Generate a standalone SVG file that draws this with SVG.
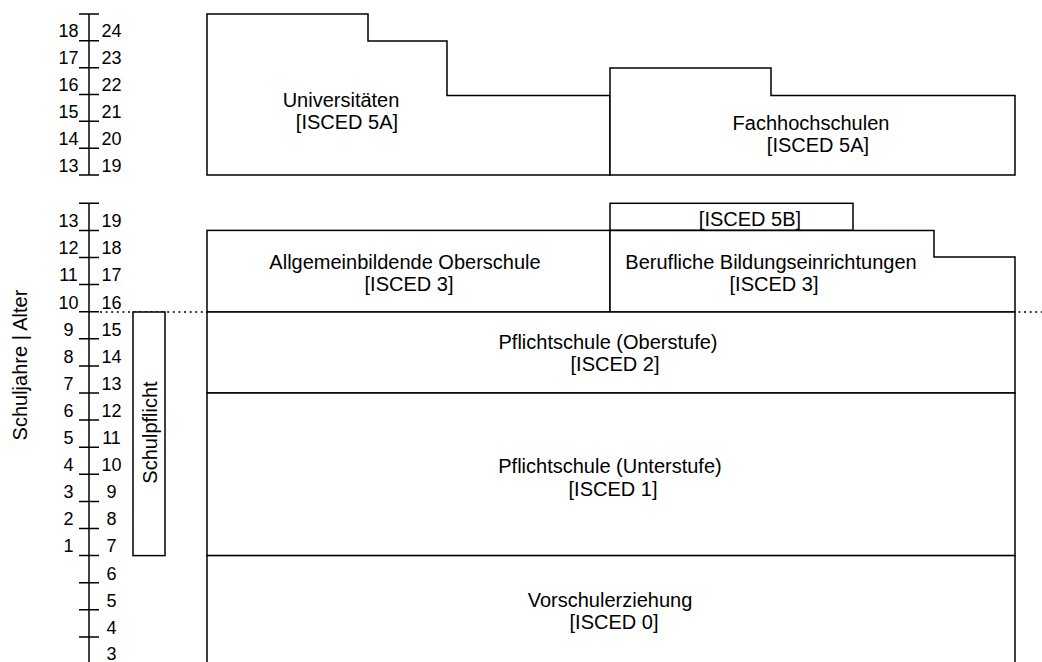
<svg xmlns="http://www.w3.org/2000/svg" width="1042" height="662" viewBox="0 0 1042 662">
<style>
.bx{fill:#fff;stroke:#000;stroke-width:1.5}
.ax{stroke:#000;stroke-width:1.5;fill:none}
.t{font-family:"Liberation Sans",Arial,sans-serif;font-size:20px;fill:#000;text-anchor:middle}
.n{font-family:"Liberation Sans",Arial,sans-serif;font-size:18px;fill:#000;text-anchor:middle}
.dot{stroke:#000;stroke-width:1.5;stroke-dasharray:2 3.6;fill:none}
</style>
<rect width="1042" height="662" fill="#fff"/>
<g id="connectors">
<line class="dot" x1="100" y1="312" x2="1042" y2="312"/>
</g>
<g id="axis-top">
<line class="ax" x1="89" y1="14" x2="89" y2="175"/>
<path class="ax" d="M79 14H99M79 40.8H99M79 67.7H99M79 94.5H99M79 121.3H99M79 148.2H99M79 175H99"/>
<text class="n" x="68.5" y="37.3">18</text><text class="n" x="111.5" y="37.3">24</text>
<text class="n" x="68.5" y="64.2">17</text><text class="n" x="111.5" y="64.2">23</text>
<text class="n" x="68.5" y="91">16</text><text class="n" x="111.5" y="91">22</text>
<text class="n" x="68.5" y="117.8">15</text><text class="n" x="111.5" y="117.8">21</text>
<text class="n" x="68.5" y="144.7">14</text><text class="n" x="111.5" y="144.7">20</text>
<text class="n" x="68.5" y="171.5">13</text><text class="n" x="111.5" y="171.5">19</text>
</g>
<g id="axis-bottom">
<line class="ax" x1="89" y1="203.3" x2="89" y2="662"/>
<path class="ax" d="M79 203.3H99M79 230.4H99M79 257.5H99M79 284.6H99M79 311.7H99M79 338.8H99M79 365.9H99M79 393H99M79 420.1H99M79 447.2H99M79 474.3H99M79 501.4H99M79 528.5H99M79 555.6H99M79 582.7H99M79 609.8H99M79 636.9H99"/>
<text class="n" x="68.5" y="227.2">13</text><text class="n" x="111.5" y="227.2">19</text>
<text class="n" x="68.5" y="254.3">12</text><text class="n" x="111.5" y="254.3">18</text>
<text class="n" x="68.5" y="281.4">11</text><text class="n" x="111.5" y="281.4">17</text>
<text class="n" x="68.5" y="308.5">10</text><text class="n" x="111.5" y="308.5">16</text>
<text class="n" x="68.5" y="335.6">9</text><text class="n" x="111.5" y="335.6">15</text>
<text class="n" x="68.5" y="362.7">8</text><text class="n" x="111.5" y="362.7">14</text>
<text class="n" x="68.5" y="389.8">7</text><text class="n" x="111.5" y="389.8">13</text>
<text class="n" x="68.5" y="416.9">6</text><text class="n" x="111.5" y="416.9">12</text>
<text class="n" x="68.5" y="444">5</text><text class="n" x="111.5" y="444">11</text>
<text class="n" x="68.5" y="471.1">4</text><text class="n" x="111.5" y="471.1">10</text>
<text class="n" x="68.5" y="498.2">3</text><text class="n" x="111.5" y="498.2">9</text>
<text class="n" x="68.5" y="525.3">2</text><text class="n" x="111.5" y="525.3">8</text>
<text class="n" x="68.5" y="552.4">1</text><text class="n" x="111.5" y="552.4">7</text>
<text class="n" x="111.5" y="579.5">6</text>
<text class="n" x="111.5" y="606.6">5</text>
<text class="n" x="111.5" y="633.7">4</text>
<text class="n" x="111.5" y="659.5">3</text>
</g>
<g id="axis-title">
<text class="t" transform="translate(26.5 365) rotate(-90)" x="0" y="0">Schuljahre | Alter</text>
</g>
<g id="universitaeten">
<path class="bx" d="M207 14H368V41H447V95.5H610V175H207Z"/>
<text class="t" x="341" y="107">Universitäten</text>
<text class="t" x="347" y="129"> [ISCED 5A]</text>
</g>
<g id="fachhochschulen">
<path class="bx" d="M610 68H771V95.5H1015V175H610Z"/>
<text class="t" x="811" y="130">Fachhochschulen</text>
<text class="t" x="818" y="152"> [ISCED 5A]</text>
</g>
<g id="isced5b">
<rect class="bx" x="610" y="203.3" width="243" height="27"/>
<text class="t" x="750" y="225.5">[ISCED 5B]</text>
</g>
<g id="oberschule">
<rect class="bx" x="207" y="230.4" width="403" height="81.6"/>
<text class="t" x="405" y="268.5">Allgemeinbildende Oberschule</text>
<text class="t" x="409" y="291"> [ISCED 3]</text>
</g>
<g id="berufliche">
<path class="bx" d="M610 230.4H934V257H1015V312H610Z"/>
<text class="t" x="771" y="268.5">Berufliche Bildungseinrichtungen</text>
<text class="t" x="774" y="291"> [ISCED 3]</text>
</g>
<g id="oberstufe">
<rect class="bx" x="207" y="312" width="808" height="81"/>
<text class="t" x="608" y="349">Pflichtschule (Oberstufe)</text>
<text class="t" x="615" y="371"> [ISCED 2]</text>
</g>
<g id="unterstufe">
<rect class="bx" x="207" y="393" width="808" height="162.6"/>
<text class="t" x="610" y="473">Pflichtschule (Unterstufe)</text>
<text class="t" x="613" y="495.5"> [ISCED 1]</text>
</g>
<g id="vorschule">
<rect class="bx" x="207" y="555.6" width="808" height="120"/>
<text class="t" x="610" y="606.5">Vorschulerziehung</text>
<text class="t" x="614" y="628.5"> [ISCED 0]</text>
</g>
<g id="schulpflicht">
<rect class="bx" x="133" y="312" width="32" height="243.6"/>
<text class="t" transform="translate(156.5 432.5) rotate(-90)" x="0" y="0">Schulpflicht</text>
</g>
</svg>
